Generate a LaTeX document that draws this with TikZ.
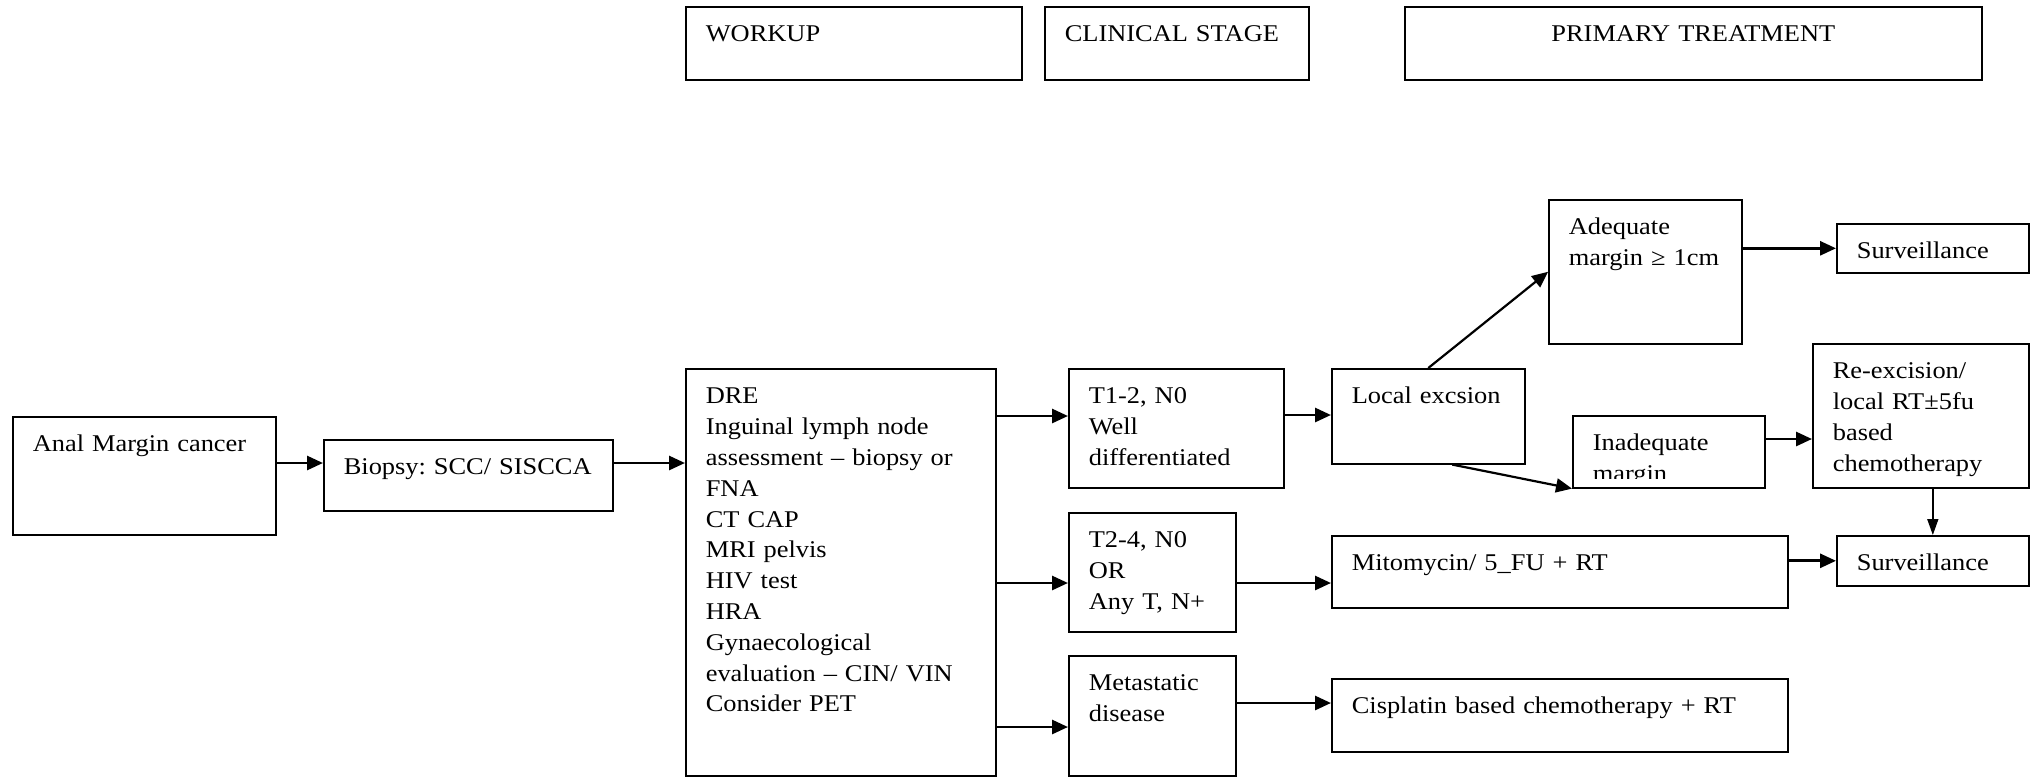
\documentclass[tikz,border=0pt]{standalone}
\usepackage{fontspec}
\setmainfont{Liberation Serif}[FakeStretch=1.1]
\usetikzlibrary{arrows.meta}
\frenchspacing
\tikzset{
  box/.style={draw, line width=0.8pt, anchor=north west, inner xsep=10pt, inner ysep=0pt,
    text height=17.5pt, align=left, font=\fontsize{12pt}{15.4pt}\selectfont},
  arr/.style={->, line width=1.4pt},
}
\begin{document}
\begin{tikzpicture}[x=0.5pt, y=-0.5pt, >={Triangle[length=8pt,width=7pt]}, line join=miter]
 \useasboundingbox (0,0) rectangle (2037,776);
 % headings
 \node[box, text width=148pt, text depth=19pt] (workhd) at (685,6) {WORKUP};
 \node[box, text width=112pt, text depth=19pt] (stagehd) at (1044,6) {CLINICAL STAGE};
 \node[box, text width=268.5pt, text depth=19pt, align=center] (treathd) at (1404,6) {PRIMARY TREATMENT};
 % workup
 \node[box, text width=111.5pt, text depth=41.5pt] (anal) at (12,416) {Anal Margin cancer};
 \node[box, text width=124.5pt, text depth=18pt] (biopsy) at (323,439) {\mbox{Biopsy: SCC/ SISCCA}};
 \node[box, text width=135pt, text depth=186pt] (work) at (685,368)
   {DRE\\Inguinal lymph node\\assessment -- biopsy or\\FNA\\CT CAP\\MRI pelvis\\HIV test\\HRA\\Gynaecological\\evaluation -- CIN/ VIN\\Consider PET};
 % stage
 \node[box, text width=87.5pt, text depth=42pt] (t12) at (1068,368) {T1-2, N0\\Well\\differentiated};
 \node[box, text width=63.5pt, text depth=42pt] (t24) at (1068,512) {T2-4, N0\\OR\\Any T, N+};
 \node[box, text width=63.5pt, text depth=42.5pt] (meta) at (1068,655) {Metastatic\\disease};
 % treatment
 \node[box, text width=76.5pt, text depth=30pt] (local) at (1331,368) {\mbox{Local excsion}};
 \node[box, text width=76.5pt, text depth=54.5pt] (adeq) at (1548,199) {Adequate\\\mbox{margin ≥ 1cm}};
 \node[box, text width=76pt, text depth=7pt] (surv1) at (1836,223) {Surveillance};
 \node[box, text width=76pt, text depth=18.5pt] (inad) at (1572,415) {};
 \begin{scope}
  \clip (inad.north west) rectangle ([yshift=5pt]inad.south east);
  \node[box, draw=none, text width=76pt, text depth=18.5pt] (inadtxt) at (1572,415) {Inadequate\\margin};
 \end{scope}
 \node[box, text width=88pt, text depth=54.5pt] (reex) at (1812,343) {Re-excision/\\local RT±5fu\\based\\chemotherapy};
 \node[box, text width=208pt, text depth=18.5pt] (mito) at (1331,535) {Mitomycin/ 5\_FU + RT};
 \node[box, text width=76pt, text depth=7.5pt] (surv2) at (1836,535) {Surveillance};
 \node[box, text width=208pt, text depth=19pt] (cis) at (1331,678) {Cisplatin based chemotherapy + RT};
 % arrows
 \draw[arr] (anal.east |- 0,463) -- (biopsy.west |- 0,463);
 \draw[arr] (biopsy.east |- 0,463) -- (work.west |- 0,463);
 \draw[arr] (work.east |- 0,416) -- (t12.west |- 0,416);
 \draw[arr] (work.east |- 0,583) -- (t24.west |- 0,583);
 \draw[arr] (work.east |- 0,727) -- (meta.west |- 0,727);
 \draw[arr] (t12.east |- 0,415) -- (local.west |- 0,415);
 \draw[arr, line width=1.1pt] (local.north) -- (adeq.west);
 \draw[arr, line width=1.1pt] ([xshift=12pt]local.south) -- (inad.south west);
 \draw[arr] (adeq.east |- surv1.west) -- (surv1.west);
 \draw[arr] (inad.east |- 0,439) -- (reex.west |- 0,439);
 \draw[arr] (t24.east |- 0,583) -- (mito.west |- 0,583);
 \draw[arr] (mito.east |- surv2.west) -- (surv2.west);
 \draw[->, line width=0.8pt, >={Triangle[length=8pt,width=5.5pt]}] (surv2.north |- reex.south) -- (surv2.north);
 \draw[arr] (meta.east |- 0,703) -- (cis.west |- 0,703);
\end{tikzpicture}
\end{document}
